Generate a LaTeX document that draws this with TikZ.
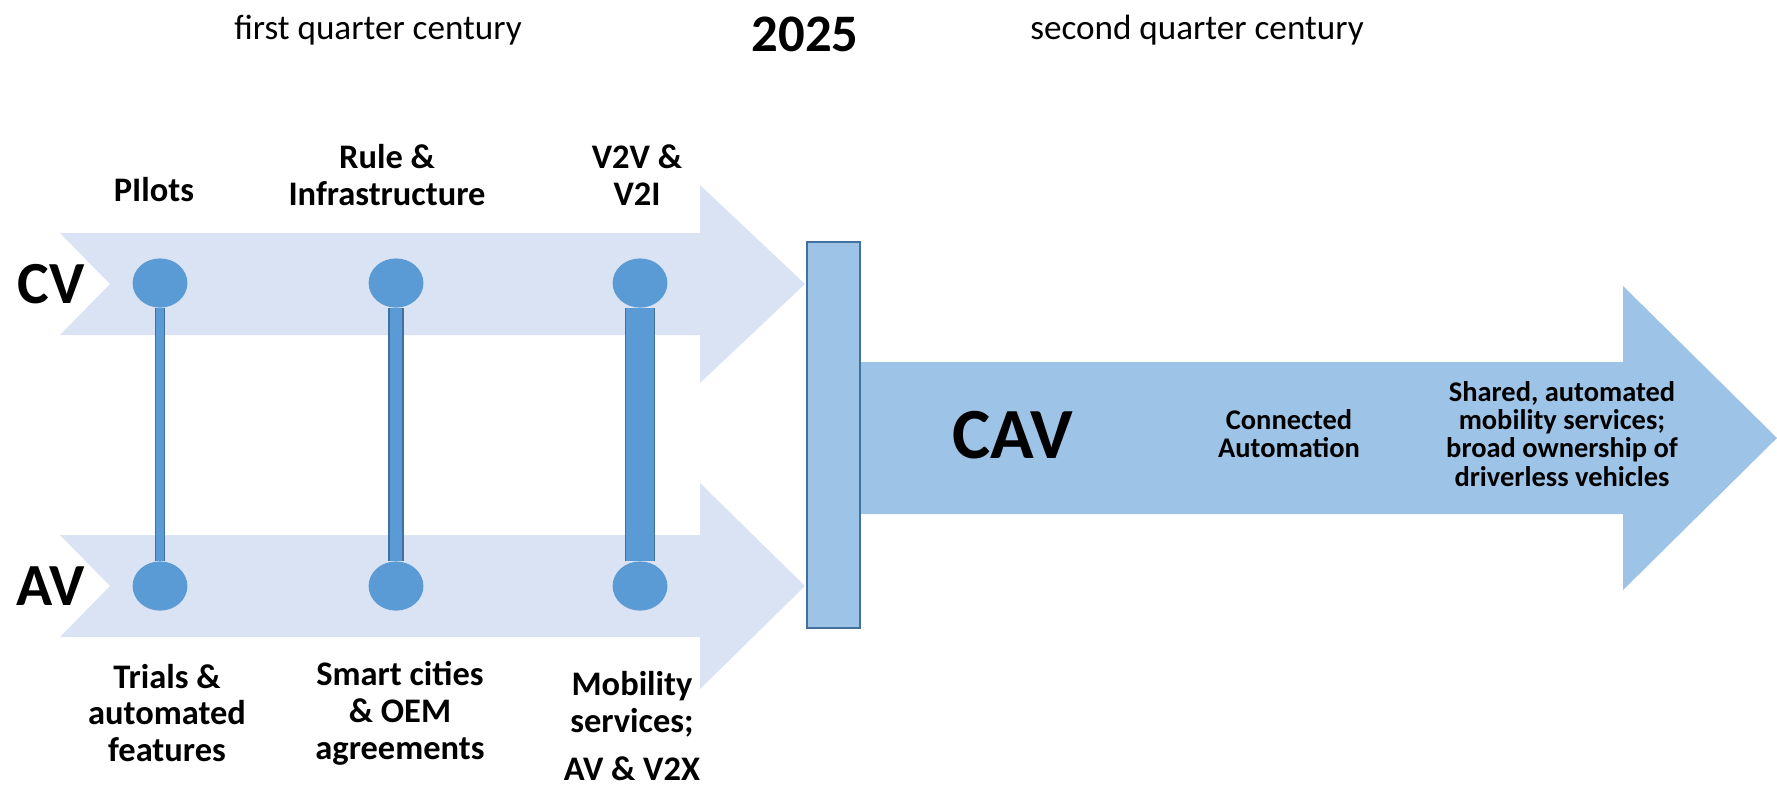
\documentclass[tikz,border=0pt]{standalone}
\usepackage{fontspec}
\setmainfont{Carlito}
\usepackage{tikz}
\usetikzlibrary{positioning}
\usetikzlibrary{shapes.geometric}
\definecolor{paleblue}{RGB}{218,227,243}
\definecolor{midblue}{RGB}{157,195,230}
\definecolor{dotblue}{RGB}{91,155,213}
\definecolor{edgeblue}{RGB}{65,113,156}
\tikzset{dot/.style = {ellipse, fill=dotblue, inner sep=0pt,
                       minimum width=15.6pt, minimum height=14pt},
         rod/.style = {draw=edgeblue, line width=0.4pt, double=dotblue,
                       double distance=#1},
         stage/.style = {align=center, font=\fontsize{9.8pt}{10.5pt}\selectfont\bfseries},
         small/.style = {align=center, font=\fontsize{8.1pt}{8pt}\selectfont\bfseries}}

\begin{document}
\begin{tikzpicture}[x=0.1mm, y=-0.1mm]
        \useasboundingbox (0,0) rectangle (1777,792);
        % the two lanes and the joint arrow
        \fill[paleblue] (60,233) -- (700,233) -- (700,185) -- (805,284) -- (700,383)
            -- (700,335) -- (60,335) -- (110,284) -- cycle;
        \fill[paleblue] (60,535) -- (700,535) -- (700,483) -- (805,586) -- (700,689)
            -- (700,637) -- (60,637) -- (110,586) -- cycle;
        \fill[midblue] (860,362) -- (1623,362) -- (1623,286) -- (1777,438) -- (1623,590)
            -- (1623,514) -- (860,514) -- cycle;
        \draw[edgeblue, fill=midblue, line width=0.6pt] (807,242) rectangle (860,628);

        \node (cv) at (51,284) {\fontsize{17pt}{17pt}\selectfont\bfseries CV};
        \node (av) at (51,586) {\fontsize{17pt}{17pt}\selectfont\bfseries AV};

        \node[dot] (cv1) at (160,283) {};
        \node[dot] (cv2) at (396,283) {};
        \node[dot] (cv3) at (640,283) {};
        \node[dot] (av1) at (160,586) {};
        \node[dot] (av2) at (396,586) {};
        \node[dot] (av3) at (640,586) {};
        \draw[rod=2pt] (cv1.south) -- (av1.north);
        \draw[rod=3.5pt] (cv2.south) -- (av2.north);
        \draw[rod=7.7pt] (cv3.south) -- (av3.north);

        \node[stage] (pilots) at (154,190) {PIlots};
        \node[stage] (rules) at (387,175) {Rule \&\\Infrastructure};
        \node[stage] (v2v) at (637,175) {V2V \&\\V2I};
        \node[stage] (trials) at (167,713) {Trials \&\\automated\\features};
        \node[stage] (cities) at (400,713) {Smart cities\\\& OEM\\agreements};
        \node[stage] (mobility) at (632,726) {Mobility\\services;\\[3pt]AV \& V2X};

        \node (cav) at (1013,435) {\fontsize{20.5pt}{20.5pt}\selectfont\bfseries CAV};
        \node[small] (connected) at (1289,434) {Connected\\Automation};
        \node[small] (shared) at (1562,434) {Shared, automated\\mobility services;\\broad ownership of\\driverless vehicles};

        \node (first) at (378,30) {\fontsize{10pt}{10pt}\selectfont first quarter century};
        \node (year) at (805,34) {\fontsize{15pt}{15pt}\selectfont\bfseries 2025};
        \node (second) at (1197,30) {\fontsize{10pt}{10pt}\selectfont second quarter century};
    \end{tikzpicture}
\end{document}
